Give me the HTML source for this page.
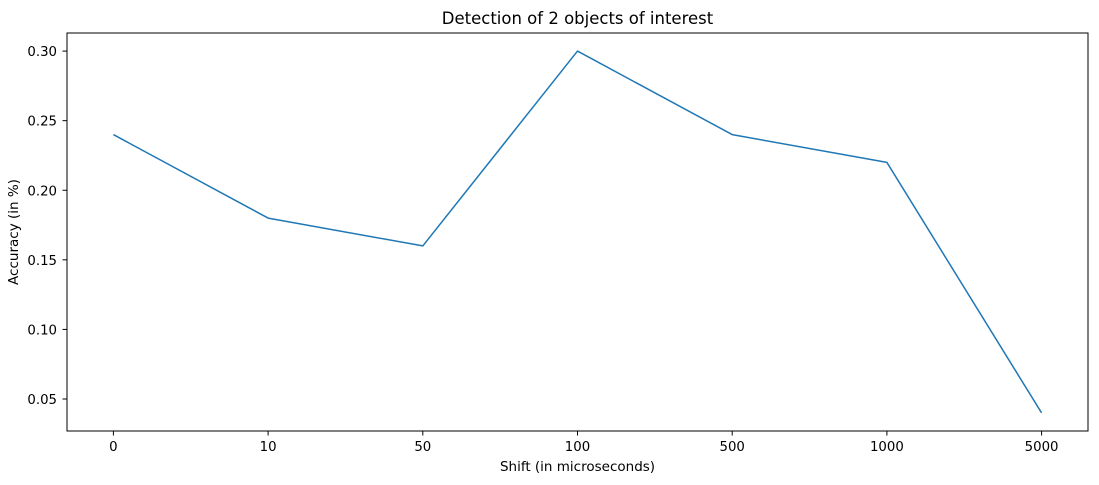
<!DOCTYPE html>
<html><head><meta charset="utf-8"><style>
body{margin:0;background:#fff;}
svg text{font-family:"DejaVu Sans","Liberation Sans",sans-serif;fill:#000;}
</style></head><body>
<svg id="chart" width="1099" height="480">
<rect x="0" y="0" width="1099" height="480" fill="#fff"/>
<g id="g"></g>
</svg>
<script>
const categories=["0","10","50","100","500","1000","5000"];
const accuracy=[0.24,0.18,0.16,0.30,0.24,0.22,0.04];
const yTicks=[0.05,0.10,0.15,0.20,0.25,0.30];
const yTickLabels=["0.05","0.10","0.15","0.20","0.25","0.30"];
const L=67,R=1088,T=33,B=431;
const xmin=-0.3,xmax=categories.length-1+0.3;
const dmin=Math.min(...accuracy),dmax=Math.max(...accuracy),pad=(dmax-dmin)*0.05;
const ymin=dmin-pad,ymax=dmax+pad;
const xs=i=>L+(i-xmin)/(xmax-xmin)*(R-L);
const ys=v=>B-(v-ymin)/(ymax-ymin)*(B-T);
const g=document.getElementById('g');
const NS="http://www.w3.org/2000/svg";
function mk(t,a,txt){const e=document.createElementNS(NS,t);for(const k in a)e.setAttribute(k,a[k]);if(txt!=null)e.textContent=txt;g.appendChild(e);return e;}
let pts=accuracy.map((v,i)=>xs(i).toFixed(2)+","+ys(v).toFixed(2)).join(" ");
let line=mk('polyline',{points:pts,fill:"none",stroke:"#1f77b4","stroke-width":1.5,"stroke-linejoin":"round"});


let fr=mk('rect',{x:L,y:T,width:R-L,height:B-T,fill:"none",stroke:"#000","stroke-width":1});


categories.forEach((c,i)=>{const x=xs(i);
mk('line',{x1:x,x2:x,y1:B,y2:B+4.5,stroke:"#000","stroke-width":1});
let t=mk('text',{x:x,y:B+20,"text-anchor":"middle","font-size":"13.3"},c);

});
yTicks.forEach((v,i)=>{const y=ys(v);
mk('line',{x1:L-4.5,x2:L,y1:y,y2:y,stroke:"#000","stroke-width":1});
let t=mk('text',{x:L-10,y:y+5,"text-anchor":"end","font-size":"13.3"},yTickLabels[i]);

});
let xt=mk('text',{x:(L+R)/2,y:471,"text-anchor":"middle","font-size":"13.5"},"Shift (in microseconds)");


let yt=mk('text',{x:0,y:0,"text-anchor":"middle","font-size":"13.5",transform:`translate(18,${(T+B)/2}) rotate(-90)`},"Accuracy (in %)");


let tt=mk('text',{x:(L+R)/2,y:24,"text-anchor":"middle","font-size":"16.5"},"Detection of 2 objects of interest");


</script>
</body></html>
